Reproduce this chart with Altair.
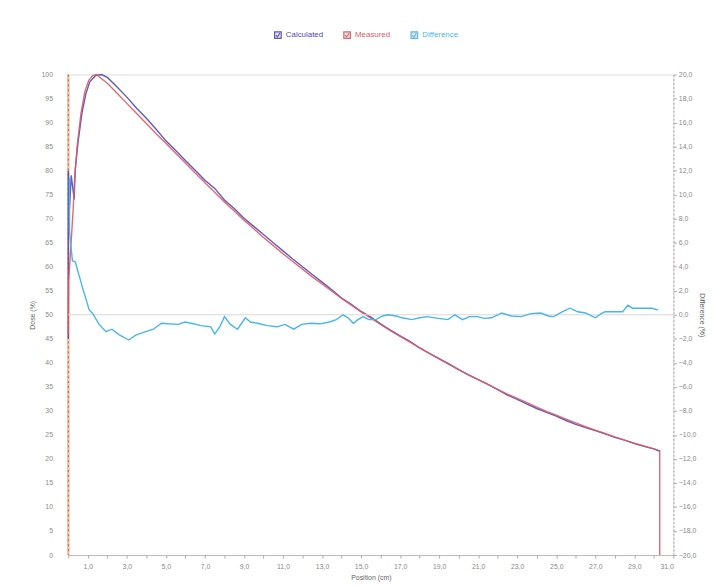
import altair as alt
import pandas as pd

# ---- data ----
meas_pos = [0.0, 0.02, 0.25, 0.32, 0.45, 0.65, 0.85, 1.05, 1.25, 1.43, 2.0, 2.5, 3.0, 3.5, 4.0, 4.5,
            5.0, 5.5, 6.0, 6.5, 7.0, 7.5, 8.0, 8.5, 9.0, 9.5, 10.0, 10.5, 11.0, 11.5, 12.0, 12.5,
            13.0, 13.5, 14.0, 14.5, 15.0, 15.5, 16.0, 16.5, 17.0, 17.5, 18.0, 18.5, 19.0, 19.5,
            20.0, 20.5, 21.0, 21.5, 22.0, 22.5, 23.0, 23.5, 24.0, 24.5, 25.0, 25.5, 26.0, 26.5,
            27.0, 27.5, 28.0, 28.5, 29.0, 29.5, 30.0, 30.3, 30.3]
meas_dose = [46, 57, 72, 78, 85, 92, 96.5, 98.8, 99.8, 100, 98.2, 96.1, 94.0, 91.9, 89.8, 87.7,
             85.7, 83.6, 81.6, 79.5, 77.5, 75.5, 73.5, 71.6, 69.7, 67.9, 66.1, 64.4, 62.7, 61.1, 59.5, 57.9,
             56.4, 54.9, 53.4, 52.0, 50.6, 49.3, 48.0, 46.7, 45.5, 44.3, 43.1, 41.9, 40.8, 39.7,
             38.6, 37.5, 36.5, 35.5, 34.5, 33.5, 32.6, 31.7, 30.8, 29.9, 29.1, 28.3, 27.5, 26.7,
             26.0, 25.3, 24.6, 23.9, 23.3, 22.7, 22.1, 21.7, 0]

calc_pos = [0.0, 0.0, 0.06, 0.15, 0.3, 0.35, 0.5, 0.7, 0.9, 1.1, 1.4, 1.7, 2.0, 2.5, 3.0, 3.5, 4.0,
            4.5, 5.0, 5.5, 6.0, 6.5, 7.0, 7.5, 8.0, 8.5, 9.0, 9.5, 10.0, 10.5, 11.0, 11.5, 12.0,
            12.5, 13.0, 13.5, 14.0, 14.5, 15.0, 15.5, 16.0, 16.5, 17.0, 17.5, 18.0, 18.5, 19.0,
            19.5, 20.0, 20.5, 21.0, 21.5, 22.0, 22.5, 23.0, 23.5, 24.0, 24.5, 25.0, 25.5, 26.0,
            26.5, 27.0, 27.5, 28.0, 28.5, 29.0, 29.5, 30.0, 30.3]
calc_dose = [45, 80, 72, 79, 74, 80, 86, 92, 96, 98.5, 99.8, 100, 99.4, 97.4, 95.3, 93.0, 90.9,
             88.6, 86.2, 84.2, 82.1, 80.1, 78.0, 76.3, 73.9, 72.1, 70.1, 68.4, 66.7, 65.0, 63.3, 61.6, 60.0,
             58.4, 56.8, 55.2, 53.5, 52.2, 50.7, 49.5, 48.1, 46.8, 45.6, 44.5, 43.1, 42.0, 40.9,
             39.8, 38.6, 37.5, 36.5, 35.5, 34.4, 33.3, 32.4, 31.4, 30.5, 29.7, 28.9, 28.0, 27.2,
             26.5, 25.9, 25.2, 24.5, 23.9, 23.2, 22.6, 22.1, 21.6]

diff_pos = [0.06, 0.06, 0.21, 0.36, 0.72, 1.07, 1.23, 1.58, 1.93, 2.24, 2.59, 3.1, 3.45, 3.96, 4.36,
            4.77, 5.12, 5.63, 5.98, 6.29, 6.8, 7.3, 7.5, 7.76, 8.0, 8.3, 8.67, 9.07, 9.33, 9.68,
            10.2, 10.7, 11.1, 11.55, 11.96, 12.4, 12.9, 13.38, 13.73, 14.08, 14.33, 14.6, 14.84,
            15.1, 15.4, 15.76, 16.1, 16.4, 16.8, 17.1, 17.6, 18.0, 18.4, 18.95, 19.45, 19.8, 20.2,
            20.56, 20.97, 21.3, 21.68, 22.2, 22.7, 23.2, 23.7, 24.2, 24.6, 24.87, 25.3, 25.7, 26.1,
            26.5, 27.0, 27.3, 27.5, 28.0, 28.4, 28.67, 28.9, 29.3, 29.9, 30.2]
diff_val = [11.4, 7.0, 4.5, 4.4, 2.3, 0.4, 0.15, -0.8, -1.4, -1.2, -1.65, -2.1, -1.7, -1.4, -1.2,
            -0.7, -0.75, -0.8, -0.6, -0.7, -0.9, -1.0, -1.6, -1.0, -0.15, -0.8, -1.2, -0.25, -0.6, -0.7,
            -0.9, -1.0, -0.8, -1.2, -0.8, -0.7, -0.75, -0.6, -0.4, 0.0, -0.25, -0.7, -0.4,
            -0.15, -0.4, -0.4, -0.1, 0.0, -0.1, -0.25, -0.4, -0.25, -0.15, -0.3, -0.4, 0.0, -0.4,
            -0.15, -0.15, -0.3, -0.25, 0.15, -0.1, -0.15, 0.1, 0.15, -0.1, -0.15, 0.25, 0.55, 0.25,
            0.15, -0.25, 0.1, 0.25, 0.25, 0.25, 0.8, 0.55, 0.55, 0.55, 0.4]

series = ["Calculated", "Measured", "Difference"]
colors = ["#5248b4", "#dc5a64", "#48b6ec"]

x_ticks = list(range(0, 32))
left_ticks = list(range(0, 101, 5))
right_ticks = list(range(-20, 21, 2))

# ---- tables ----
calc_df = pd.DataFrame({"pos": calc_pos, "val": calc_dose, "series": "Calculated",
                        "ord": range(len(calc_pos))})
meas_df = pd.DataFrame({"pos": meas_pos, "val": meas_dose, "series": "Measured",
                        "ord": range(len(meas_pos))})
dose_df = pd.concat([calc_df, meas_df], ignore_index=True)
diff_df = pd.DataFrame({"pos": diff_pos, "val": diff_val, "series": "Difference",
                        "ord": range(len(diff_pos))})

label_font = "Liberation Sans"
grey = "#8a8a8a"

color_enc = alt.Color(
    "series:N",
    scale=alt.Scale(domain=series, range=colors),
    legend=alt.Legend(
        orient="none", direction="horizontal", title=None,
        legendX=208, legendY=-44,
        labelFontSize=8, labelFont=label_font,
        symbolType="M-1,-1H1V1H-1Z M-0.6,0L-0.15,0.5L0.6,-0.6",
        symbolSize=45, symbolStrokeWidth=1.2, symbolStrokeColor="#555555",
        symbolFillColor="#dddddd", columnPadding=18, labelOffset=4,
        labelColor={"expr": "datum.label == 'Calculated' ? '#5248b4' : datum.label == 'Measured' ? '#dc5a64' : '#48b6ec'"},
    ),
)

x_enc = alt.X(
    "pos:Q",
    scale=alt.Scale(domain=[0, 31], nice=False, zero=False),
    axis=alt.Axis(
        values=x_ticks, title="Position (cm)", grid=False, labelOverlap=False,
        labelExpr="datum.value % 2 == 1 ? replace(format(datum.value, '.1f'), '.', ',') : ''",
        labelFontSize=7, labelColor=grey, labelFont=label_font,
        titleFontSize=7, titleFontWeight="normal", titleColor="#666666", titleFont=label_font,
        titleAnchor="middle", titlePadding=4,
        tickSize=3, tickColor="#aaaaaa", domainColor="#bbbbbb", labelPadding=5,
    ),
)

left_y = alt.Y(
    "val:Q",
    scale=alt.Scale(domain=[0, 100], nice=False),
    axis=alt.Axis(
        values=left_ticks, title="Dose (%)", grid=False, orient="left", labelOverlap=False,
        labelFontSize=7, labelColor=grey, labelFont=label_font,
        titleFontSize=7, titleFontWeight="normal", titleColor="#666666", titleFont=label_font,
        tickSize=0, domain=False, labelPadding=16, titlePadding=6,
    ),
)

right_y = alt.Y(
    "val:Q",
    scale=alt.Scale(domain=[-20, 20], nice=False),
    axis=alt.Axis(
        values=right_ticks, title="Difference (%)", grid=False, orient="right",
        labelOverlap=False,
        labelExpr="replace(format(datum.value, '.1f'), '.', ',')",
        labelFontSize=7, labelColor=grey, labelFont=label_font,
        titleFontSize=7, titleFontWeight="normal", titleColor="#666666", titleFont=label_font,
        tickSize=3, tickColor="#aaaaaa", domainColor="#aaaaaa", domainDash=[2, 2],
        labelPadding=2, titlePadding=3,
    ),
)

zero_rule = alt.Chart(pd.DataFrame({"pos": [0]})).mark_rule(
    color="#f4c09a", strokeWidth=2.5
).encode(x=x_enc)
zero_rule2 = alt.Chart(pd.DataFrame({"pos": [0]})).mark_rule(
    color="#d05050", strokeWidth=1, strokeDash=[2, 3]
).encode(x=x_enc)

dose_lines = alt.Chart(dose_df).mark_line(strokeWidth=1.4, opacity=0.9).encode(
    x=x_enc,
    y=left_y,
    color=color_enc,
    detail="series:N",
    order="ord:Q",
)

left_layer = alt.layer(zero_rule, zero_rule2, dose_lines)

diff_rule = alt.Chart(pd.DataFrame({"val": [0]})).mark_rule(
    color="#d8d8d8", strokeWidth=1
).encode(y=right_y)

diff_line = alt.Chart(diff_df).mark_line(strokeWidth=1.4).encode(
    x=x_enc,
    y=right_y,
    color=color_enc,
    order="ord:Q",
)

right_layer = alt.layer(diff_rule, diff_line)

chart = alt.layer(left_layer, right_layer).resolve_scale(y="independent").properties(
    width=612, height=486,
    autosize=alt.AutoSizeParams(type="none"),
    padding={"left": 61, "top": 64, "right": 34, "bottom": 28},
).configure_view(stroke=None).configure_axis(labelOverlap=False).configure(background="white")

chart.save("out.html", embed_options={"renderer": "svg", "actions": False})
